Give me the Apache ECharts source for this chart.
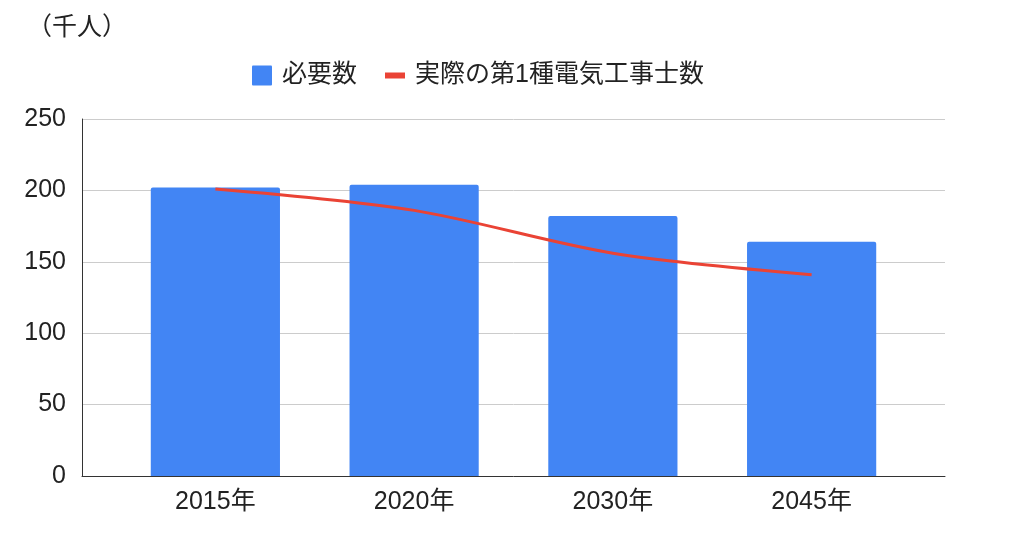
<!DOCTYPE html>
<html>
<head>
<meta charset="utf-8">
<script src="https://cdn.jsdelivr.net/npm/echarts@6/dist/echarts.min.js"></script>
<style>
  html, body { margin: 0; padding: 0; background: #fff; }
  #main { width: 1024px; height: 538px; }
</style>
</head>
<body>
<div id="main"></div>
<script>
var years = ['2015年', '2020年', '2030年', '2045年'];
var needed = [202, 204, 182, 164];
var actual = [201, 186, 156, 141];
var yTicks = [0, 50, 100, 150, 200, 250];

var font = '"Liberation Sans", "Noto Sans CJK JP", sans-serif';

var myChart = echarts.init(document.getElementById('main'));
myChart.setOption({
    textStyle: { fontFamily: font },
    title: {
        text: '（千人）',
        left: 22,
        top: 11,
        textStyle: { fontSize: 25, fontWeight: 'normal', color: '#222', fontFamily: font }
    },
    legend: {
        top: 58,
        left: 247,
        itemGap: 28,
        itemWidth: 20,
        itemHeight: 20,
        textStyle: { fontSize: 25, color: '#222', fontFamily: font, padding: [0, 0, 0, 5] },
        data: [
            { name: '必要数', icon: 'path://M1,0L19,0Q20,0 20,1L20,19Q20,20 19,20L1,20Q0,20 0,19L0,1Q0,0 1,0Z' },
            { name: '実際の第1種電気工事士数', icon: 'path://M0,0L20,0L20,6L0,6Z' }
        ]
    },
    // grid 0 draws the frame, grid 1 holds the bars (inset like the original)
    grid: [
        { left: 82, right: 79, top: 119, bottom: 62 },
        { left: 116, right: 113, top: 119, bottom: 62 }
    ],
    xAxis: [{
        type: 'category',
        gridIndex: 0,
        data: [''],
        axisLine: { lineStyle: { color: '#333', width: 1 } },
        axisTick: { show: false },
        axisLabel: { show: false }
    }, {
        type: 'category',
        gridIndex: 1,
        data: years,
        axisLine: { show: false },
        axisTick: { show: false },
        axisLabel: { fontSize: 25, color: '#222', margin: 14 }
    }],
    yAxis: [{
        type: 'value',
        gridIndex: 0,
        min: yTicks[0],
        max: yTicks[yTicks.length - 1],
        interval: 50,
        axisLine: { show: true, lineStyle: { color: '#333', width: 1 } },
        axisTick: { show: false },
        axisLabel: { fontSize: 25, color: '#222', margin: 16 },
        splitLine: { lineStyle: { color: '#ccc' } }
    }, {
        type: 'value',
        gridIndex: 1,
        min: yTicks[0],
        max: yTicks[yTicks.length - 1],
        interval: 50,
        axisLine: { show: false },
        axisTick: { show: false },
        axisLabel: { show: false },
        splitLine: { show: false }
    }],
    series: [{
        name: '必要数',
        type: 'bar',
        xAxisIndex: 1,
        yAxisIndex: 1,
        data: needed,
        barWidth: '65%',
        itemStyle: { color: '#4285f4', borderRadius: [2, 2, 0, 0] }
    }, {
        name: '実際の第1種電気工事士数',
        type: 'line',
        xAxisIndex: 1,
        yAxisIndex: 1,
        data: actual,
        smooth: 0.3,
        symbol: 'none',
        lineStyle: { color: '#ea4335', width: 3 },
        itemStyle: { color: '#ea4335' }
    }]
});
</script>
</body>
</html>
